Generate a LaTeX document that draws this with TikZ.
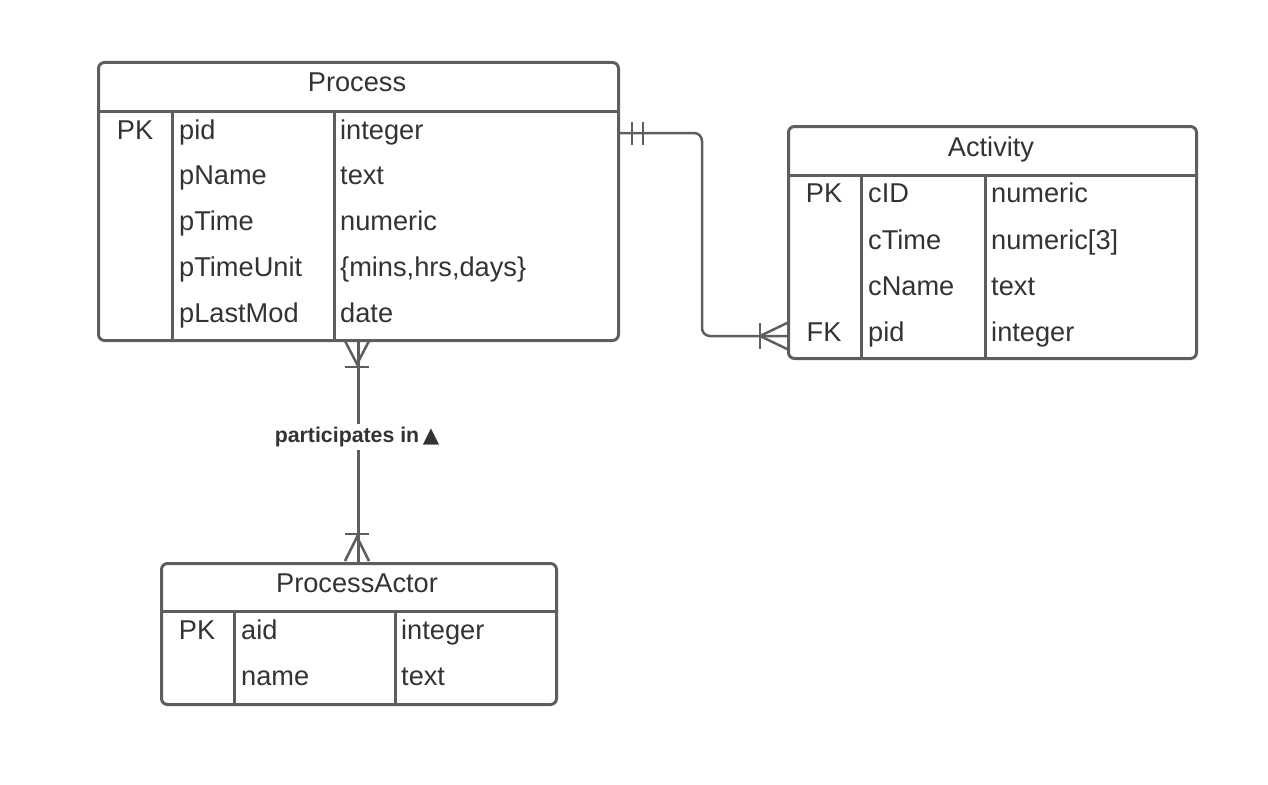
\documentclass[tikz,border=0pt]{standalone}
\usepackage{fontspec}
\setmainfont{Liberation Sans}
\newfontfamily\symfont{DejaVu Sans}
\usetikzlibrary{calc}
\definecolor{ln}{HTML}{5E5E5E}
\definecolor{tx}{HTML}{333333}
\begin{document}
\begin{tikzpicture}[x=1pt,y=-1pt,
  tbl/.style={draw=ln, line width=3pt, rounded corners=6pt, inner sep=0pt, anchor=north west, fill=white},
  sep/.style={draw=ln, line width=3pt},
  cell/.style={text=tx, inner sep=0pt, anchor=base west, font=\fontsize{27.2}{31}\selectfont},
  key/.style={text=tx, inner sep=0pt, anchor=base, font=\fontsize{27.2}{31}\selectfont},
  conn/.style={draw=ln, line width=2.5pt},
  lbl/.style={text=tx, fill=white, inner sep=3pt, font=\bfseries\fontsize{21.3}{25}\selectfont}]
\useasboundingbox (0,0) rectangle (1268,784);
% ---------------- Process
\node[tbl, minimum width=520pt, minimum height=278pt] (process) at (97,61) {};
\draw[sep] (97,111) -- (617,111);
\draw[sep] (172,111) -- (172,339);
\draw[sep] (334,111) -- (334,339);
\node[key] (ptitle) at (357,92) {Process};
\node[key] (ppk) at (135,139) {PK};
\node[cell] (pf1) at (179,139) {pid};
\node[cell] (pf2) at (179,184.5) {pName};
\node[cell] (pf3) at (179,230) {pTime};
\node[cell] (pf4) at (179,276) {pTimeUnit};
\node[cell] (pf5) at (179,322) {pLastMod};
\node[cell] (pt1) at (340,139) {integer};
\node[cell] (pt2) at (340,184.5) {text};
\node[cell] (pt3) at (340,230) {numeric};
\node[cell] (pt4) at (340,276) {\{mins,hrs,days\}};
\node[cell] (pt5) at (340,322) {date};
% ---------------- Activity
\node[tbl, minimum width=408pt, minimum height=232pt] (activity) at (787,125) {};
\draw[sep] (787,175) -- (1195,175);
\draw[sep] (861,175) -- (861,357);
\draw[sep] (985,175) -- (985,357);
\node[key] (atitle) at (991,156) {Activity};
\node[key] (apk) at (824,202.5) {PK};
\node[key] (afk) at (824,341) {FK};
\node[cell] (af1) at (868,202.5) {cID};
\node[cell] (af2) at (868,249) {cTime};
\node[cell] (af3) at (868,295) {cName};
\node[cell] (af4) at (868,341) {pid};
\node[cell] (at1) at (991,202.5) {numeric};
\node[cell] (at2) at (991,249) {numeric[3]};
\node[cell] (at3) at (991,295) {text};
\node[cell] (at4) at (991,341) {integer};
% ---------------- ProcessActor
\node[tbl, minimum width=395pt, minimum height=141pt] (actor) at (160,562) {};
\draw[sep] (160,611) -- (555,611);
\draw[sep] (234,611) -- (234,703);
\draw[sep] (395,611) -- (395,703);
\node[key] (xtitle) at (357,592) {ProcessActor};
\node[key] (xpk) at (197,639) {PK};
\node[cell] (xf1) at (241,639) {aid};
\node[cell] (xf2) at (241,685) {name};
\node[cell] (xt1) at (401,639) {integer};
\node[cell] (xt2) at (401,685) {text};
% ---------------- connector Process -> Activity
\coordinate (c1s) at (process.east |- 0,133);
\coordinate (c1e) at (activity.west |- 0,336);
\draw[conn, rounded corners=8pt] (c1s) -- (702,133) -- (702,336) -- (c1e);
\draw[conn] (632,122) -- (632,145);
\draw[conn] (643,122) -- (643,145);
\draw[conn] (760,323) -- (760,349);
\draw[conn] ($(c1e)+(0,-13)$) -- (760,336) -- ($(c1e)+(0,13)$);
% ---------------- connector Process -> ProcessActor
\coordinate (c2s) at (process.south);
\coordinate (c2e) at (actor.north -| c2s);
\node[lbl] (rel) at (357,437) {participates in\,{\symfont ▲}};
\draw[conn] (c2s) -- (rel.north -| c2s);
\draw[conn] (rel.south -| c2s) -- (c2e);
\draw[conn] (345,341) -- (357,364) -- (369,341);
\draw[conn] (345,367) -- (369,367);
\draw[conn] (345,534) -- (369,534);
\draw[conn] (345,561) -- (357,537) -- (369,561);
\end{tikzpicture}
\end{document}
